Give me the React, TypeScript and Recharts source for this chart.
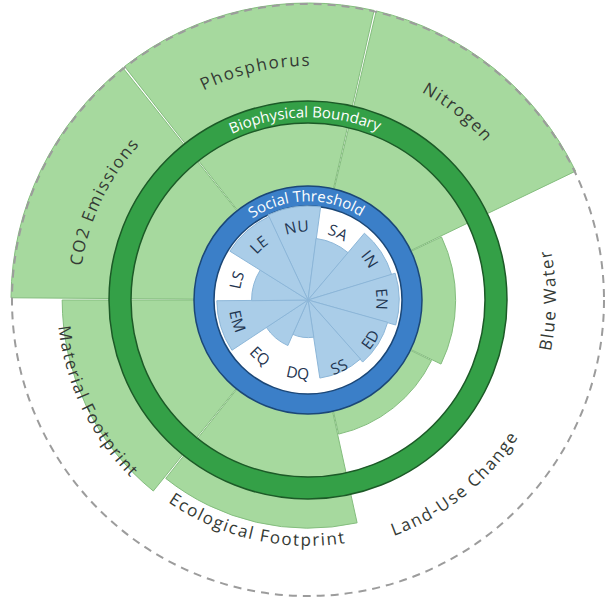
import React from "react";
import {
  RadialBarChart,
  RadialBar,
  PolarAngleAxis,
  PolarRadiusAxis,
  PolarGrid,
} from "recharts";

const W = 607;
const H = 600;
const CX = 308;
const CY = 300;

// planetary boundaries, clockwise from 9 o'clock. 1 = boundary (green ring)
const planetNames = [
  "CO2 Emissions",
  "Phosphorus",
  "Nitrogen",
  "Blue Water",
  "Land-Use Change",
  "Ecological Footprint",
  "Material Footprint",
];
// first three run past the edge of the chart, shown at the cap
const planetValues = [2.3, 2.3, 2.3, 0.52, 0.4, 1.48, 1.69];
const PLANET_CAP = 2.3;

// social dimensions, clockwise from the top. 1 = social threshold
const socialNames = ["NU", "SA", "IN", "EN", "ED", "SS", "DQ", "EQ", "EM", "LS", "LE"];
const socialValues = [1.0, 0.66, 0.93, 0.97, 0.88, 0.84, 0.4, 0.53, 0.97, 0.6, 0.98];

const ringTitles = ["Biophysical Boundary", "Social Threshold"];

const planetData = planetNames.map((name, i) => ({ name, value: planetValues[i] }));
const socialData = socialNames.map((name, i) => ({ name, value: socialValues[i] }));

// radii in px
const R_SOCIAL_IN = 94;
const R_SOCIAL_OUT = 114;
const R_BIO_IN = 177;
const R_BIO_OUT = 199;
const R_PLANET_BASE = 104;
const R_PLANET_MAX = 297;
const R_CAP = 296;

// angles (recharts: degrees ccw from 3 o'clock). a clockwise band range puts
// each sector one band "behind" its tick, so start one band earlier
const PLANET_BAND = 360 / planetNames.length;
const PLANET_START = 180 - PLANET_BAND; // first sector begins at 9 o'clock
const SOCIAL_BAND = 360 / socialNames.length;
const SOCIAL_START = 115 - SOCIAL_BAND;

const LABEL_R: Record<string, number> = {
  "CO2 Emissions": 235,
  Phosphorus: 240,
  Nitrogen: 243,
  "Blue Water": 242,
  "Land-Use Change": 245,
  "Ecological Footprint": 240,
  "Material Footprint": 245,
};

const FONT = "'Open Sans', 'DejaVu Sans', sans-serif";
const NO_MARGIN = { top: 0, right: 0, bottom: 0, left: 0 };

const toCw = (mathDeg: number) => (((90 - mathDeg) % 360) + 360) % 360;

function CurvedText({
  id,
  text,
  theta,
  r,
  fontSize,
  fill,
  letterSpacing = 0,
}: {
  id: string;
  text: string;
  theta: number;
  r: number;
  fontSize: number;
  fill: string;
  letterSpacing?: number;
}) {
  const t = ((theta % 360) + 360) % 360;
  const inward = t > 89.9 && t < 270;
  const rb = inward ? r + fontSize * 0.35 : r - fontSize * 0.35;
  const pt = (deg: number) => {
    const a = (deg * Math.PI) / 180;
    return [CX + rb * Math.sin(a), CY - rb * Math.cos(a)];
  };
  const [x1, y1] = pt(t - 90);
  const [x2, y2] = pt(t + 90);
  const d = inward
    ? `M${x2},${y2} A${rb},${rb} 0 0 0 ${x1},${y1}`
    : `M${x1},${y1} A${rb},${rb} 0 0 1 ${x2},${y2}`;
  return (
    <g>
      <path id={id} d={d} fill="none" stroke="none" />
      <text fontSize={fontSize} fill={fill} fontFamily={FONT} letterSpacing={letterSpacing}>
        <textPath href={`#${id}`} startOffset="50%" textAnchor="middle">
          {text}
        </textPath>
      </text>
    </g>
  );
}

function planetTick(p: any) {
  const name = String(p.payload.value);
  return (
    <CurvedText
      id={`pl-${p.index}`}
      text={name}
      theta={toCw(p.payload.coordinate + PLANET_BAND / 2)}
      r={LABEL_R[name] ?? 240}
      fontSize={17}
      fill="#343a34"
      letterSpacing={1.6}
    />
  );
}

function socialTick(p: any) {
  return (
    <CurvedText
      id={`so-${p.index}`}
      text={String(p.payload.value)}
      theta={toCw(p.payload.coordinate + SOCIAL_BAND / 2)}
      r={74}
      fontSize={15.5}
      fill="#1f3550"
      letterSpacing={0.5}
    />
  );
}

const layer: React.CSSProperties = { position: "absolute", left: 0, top: 0 };

export default function App() {
  return (
    <div style={{ position: "absolute", left: 0, top: 0, width: W, height: H, background: "#fff" }}>
      <div style={layer}>
        <RadialBarChart
          width={W}
          height={H}
          cx={CX}
          cy={CY}
          innerRadius={R_PLANET_BASE}
          outerRadius={R_PLANET_MAX}
          startAngle={PLANET_START}
          endAngle={PLANET_START - 360}
          layout="centric"
          data={planetData}
          barCategoryGap={0}
          margin={NO_MARGIN}
        >
          <PolarRadiusAxis type="number" domain={[0, PLANET_CAP]} tick={false} axisLine={false} />
          <RadialBar
            dataKey="value"
            fill="#a6d99e"
            stroke="#84bd7e"
            strokeWidth={1}
            isAnimationActive={false}
          />
          <PolarAngleAxis
            type="category"
            dataKey="name"
            axisLine={false}
            tickLine={false}
            tick={planetTick}
          />
        </RadialBarChart>
      </div>
      <div style={layer}>
        <RadialBarChart
          width={W}
          height={H}
          cx={CX}
          cy={CY}
          innerRadius={0}
          outerRadius={R_SOCIAL_IN}
          startAngle={SOCIAL_START}
          endAngle={SOCIAL_START - 360}
          layout="centric"
          data={socialData}
          barCategoryGap={0}
          margin={NO_MARGIN}
        >
          <PolarGrid
            gridType="circle"
            radialLines={false}
            polarRadius={[R_CAP]}
            stroke="#9c9c9c"
            strokeWidth={2}
            strokeDasharray="8 6"
          />
          <PolarGrid
            gridType="circle"
            radialLines={false}
            polarRadius={[(R_BIO_IN + R_BIO_OUT) / 2]}
            stroke="#34a047"
            strokeWidth={R_BIO_OUT - R_BIO_IN}
          />
          <PolarGrid
            gridType="circle"
            radialLines={false}
            polarRadius={[R_BIO_IN, R_BIO_OUT]}
            stroke="#1c5a27"
            strokeWidth={1.5}
          />
          <PolarGrid
            gridType="circle"
            radialLines={false}
            polarRadius={[(R_SOCIAL_IN + R_SOCIAL_OUT) / 2]}
            stroke="#3b7fc8"
            strokeWidth={R_SOCIAL_OUT - R_SOCIAL_IN}
          />
          <PolarGrid
            gridType="circle"
            radialLines={false}
            polarRadius={[R_SOCIAL_IN, R_SOCIAL_OUT]}
            stroke="#1b4777"
            strokeWidth={1.5}
          />
          <PolarRadiusAxis type="number" domain={[0, 1]} tick={false} axisLine={false} />
          <RadialBar
            dataKey="value"
            fill="#aacde8"
            stroke="#8cb6d8"
            strokeWidth={1}
            isAnimationActive={false}
          />
          <PolarAngleAxis
            type="category"
            dataKey="name"
            axisLine={false}
            tickLine={false}
            tick={socialTick}
          />
        </RadialBarChart>
      </div>
      <svg width={W} height={H} style={layer}>
        <CurvedText
          id="title-bio"
          text={ringTitles[0]}
          theta={-1}
          r={(R_BIO_IN + R_BIO_OUT) / 2}
          fontSize={15}
          fill="#fff"
        />
        <CurvedText
          id="title-soc"
          text={ringTitles[1]}
          theta={-1}
          r={(R_SOCIAL_IN + R_SOCIAL_OUT) / 2}
          fontSize={15}
          fill="#fff"
        />
      </svg>
    </div>
  );
}
